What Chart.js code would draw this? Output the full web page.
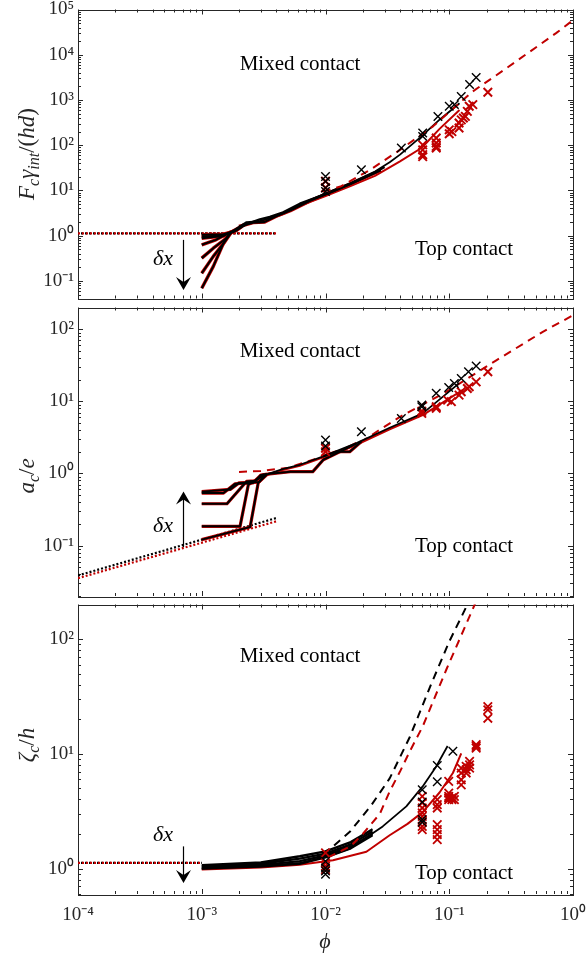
<!DOCTYPE html>
<html><head><meta charset="utf-8">
<script src="https://cdn.jsdelivr.net/npm/chart.js@4.4.1/dist/chart.umd.min.js"></script>
<style>
html,body{margin:0;padding:0;background:#fff;}
#wrap{position:relative;width:587px;height:960px;overflow:hidden;background:#fff;}
canvas{position:absolute;left:0;top:0;}
.lbl{position:absolute;font-family:'Liberation Serif','Times New Roman',serif;font-size:21px;color:#000;white-space:nowrap;transform:translate(-50%,-50%);}
.dx{position:absolute;font-family:'Liberation Serif','Times New Roman',serif;font-style:italic;font-size:22px;color:#000;white-space:nowrap;transform:translate(-50%,-50%);}
.yt{position:absolute;font-family:'Liberation Serif','Times New Roman',serif;font-size:23px;color:#262626;white-space:nowrap;transform:translate(-50%,-50%) rotate(-90deg);}
.yt i{font-style:italic;}
.yt sub{font-size:16px;vertical-align:-5px;line-height:0;}
.xt{position:absolute;font-family:'Liberation Serif','Times New Roman',serif;font-style:italic;font-size:22px;color:#262626;transform:translate(-50%,-50%);}
</style></head>
<body>
<div id="wrap">
<canvas id="cA" width="587" height="960"></canvas>
<canvas id="cB" width="587" height="960"></canvas>
<canvas id="cC" width="587" height="960"></canvas>
<div class="yt" style="left:27px;top:154px"><i>F</i><sub><i>c</i></sub><i>γ</i><sub><i>int</i></sub>/(<i>hd</i>)</div>
<div class="yt" style="left:27px;top:476px"><i>a</i><sub><i>c</i></sub>/<i>e</i></div>
<div class="yt" style="left:27px;top:745px"><i>ζ</i><sub><i>c</i></sub>/<i>h</i></div>
<div class="xt" style="left:325px;top:941px">ϕ</div>
<div class="lbl" style="left:300px;top:63px">Mixed contact</div>
<div class="lbl" style="left:464px;top:248px">Top contact</div>
<div class="lbl" style="left:300px;top:350px">Mixed contact</div>
<div class="lbl" style="left:464px;top:545px">Top contact</div>
<div class="lbl" style="left:300px;top:655px">Mixed contact</div>
<div class="lbl" style="left:464px;top:872px">Top contact</div>
<div class="dx" style="left:163px;top:258px">δx</div>
<div class="dx" style="left:163px;top:525px">δx</div>
<div class="dx" style="left:163px;top:834px">δx</div>
</div>
<script>
// ---------- axes / ticks ----------
const X_TICKS = [1e-4, 1e-3, 1e-2, 1e-1, 1];
const X_TICK_LABELS = ['10⁻⁴', '10⁻³', '10⁻²', '10⁻¹', '10⁰'];
const A_Y_TICKS = [1e-1, 1, 10, 100, 1e3, 1e4, 1e5];
const A_Y_LABELS = ['10⁻¹', '10⁰', '10¹', '10²', '10³', '10⁴', '10⁵'];
const B_Y_TICKS = [1e-1, 1, 10, 100];
const B_Y_LABELS = ['10⁻¹', '10⁰', '10¹', '10²'];
const C_Y_TICKS = [1, 10, 100];
const C_Y_LABELS = ['10⁰', '10¹', '10²'];

// ---------- panel A : F_c gamma_int/(hd) ----------
const A_DOT_X = [1e-4, 4e-3];
const A_DOT_Y = [1.13, 1.13];
const A_F1_X = [1e-3, 1.24e-3, 1.54e-3, 1.75e-3];
const A_F1_Y = [0.069, 0.21, 0.81, 1.24];
const A_F2_X = [1e-3, 1.24e-3, 1.54e-3, 1.75e-3];
const A_F2_Y = [0.148, 0.35, 0.74, 1.24];
const A_F3_X = [1e-3, 1.24e-3, 1.58e-3, 1.75e-3];
const A_F3_Y = [0.32, 0.53, 0.88, 1.24];
const A_F4_X = [1e-3, 1.3e-3, 1.64e-3, 1.85e-3];
const A_F4_Y = [0.63, 0.81, 1.14, 1.3];
const A_F5_X = [1e-3, 1.5e-3, 1.75e-3, 2.0e-3];
const A_F5_Y = [0.88, 0.99, 1.23, 1.5];
const A_F6_X = [1e-3, 1.4e-3, 1.8e-3, 2.1e-3];
const A_F6_Y = [0.96, 1.0, 1.2, 1.6];
const A_F7_X = [1e-3, 1.5e-3, 1.9e-3, 2.2e-3];
const A_F7_Y = [1.05, 1.08, 1.3, 1.75];
const A_T2_X = [1.85e-3, 2.3e-3, 2.95e-3, 3.55e-3, 4.55e-3, 6.2e-3, 0.01, 0.0159, 0.0251, 0.03];
const A_T2_Y = [1.3, 1.8, 2.3, 2.6, 3.3, 5.1, 8.3, 14.0, 25.0, 33];
const A_T3_X = [2.0e-3, 2.6e-3, 3.2e-3, 4.0e-3, 5.2e-3, 7.5e-3, 0.012, 0.02, 0.028];
const A_T3_Y = [1.6, 1.95, 2.0, 2.7, 3.6, 5.9, 10, 18.5, 28];
const A_BLACK_X = [1.75e-3, 2.3e-3, 2.95e-3, 3.55e-3, 4.55e-3, 6.2e-3, 0.01, 0.0159, 0.0251, 0.033, 0.04, 0.0577, 0.0835, 0.121];
const A_BLACK_Y = [1.24, 2.0, 2.1, 2.44, 3.16, 4.9, 8.7, 14.6, 26.3, 42, 62, 145, 367, 850];
const A_RED_X = [1.75e-3, 2.3e-3, 2.95e-3, 3.55e-3, 4.55e-3, 6.2e-3, 0.01, 0.0159, 0.0251, 0.04, 0.06, 0.0835, 0.121];
const A_RED_Y = [1.2, 1.85, 2.0, 2.35, 3.0, 4.6, 7.5, 12.5, 21, 44, 88, 230, 600];
const A_DASH_X = [0.0095, 0.0132, 0.023, 0.04, 0.074, 0.155, 0.27, 0.73, 1.0];
const A_DASH_Y = [9.5, 12.2, 28.7, 79, 262, 1550, 4400, 30000, 58000];
const A_BX = [0.01, 0.01, 0.01, 0.01, 0.0195, 0.041, 0.061, 0.061, 0.081, 0.1, 0.11, 0.125, 0.146, 0.165];
const A_BY = [20.4, 15.9, 11.3, 9.5, 28.7, 87, 186, 157, 434, 725, 790, 1200, 2190, 3150];
const A_RX = [0.01, 0.01, 0.061, 0.061, 0.061, 0.061, 0.0785, 0.0785, 0.0785, 0.0785, 0.1, 0.105, 0.1, 0.12, 0.12, 0.125, 0.13, 0.135, 0.14, 0.145, 0.155, 0.205];
const A_RY = [16, 11.5, 102, 79, 62, 56, 145, 112, 94, 87, 219, 200, 180, 240, 310, 363, 400, 435, 560, 725, 790, 1480];

// ---------- panel B : a_c/e ----------
const B_DOTK_X = [1e-4, 4e-3];
const B_DOTK_Y = [0.0385, 0.241];
const B_DOTR_X = [1e-4, 4e-3];
const B_DOTR_Y = [0.0353, 0.217];
const B_F1_X = [1e-3, 1.5e-3, 1.86e-3, 2.6e-3, 3.0e-3, 3.4e-3];
const B_F1_Y = [0.535, 0.535, 0.72, 0.74, 0.95, 0.98];
const B_F2_X = [1e-3, 1.7e-3, 2.0e-3, 2.9e-3, 3.3e-3];
const B_F2_Y = [0.56, 0.6, 0.74, 0.76, 0.98];
const B_F3_X = [1e-3, 1.6e-3, 2.3e-3, 2.7e-3, 3.2e-3];
const B_F3_Y = [0.38, 0.38, 0.775, 0.79, 0.97];
const B_F4_X = [1e-3, 2.04e-3, 2.38e-3, 3.3e-3];
const B_F4_Y = [0.185, 0.185, 0.70, 0.98];
const B_F5_X = [1e-3, 2.46e-3, 2.86e-3, 3.4e-3];
const B_F5_Y = [0.121, 0.181, 0.745, 0.98];
const B_S1_X = [3.4e-3, 5.2e-3, 7.9e-3, 9.6e-3, 0.0178];
const B_S1_Y = [0.98, 1.06, 1.06, 1.55, 2.6];
const B_S2_X = [0.0096, 0.0123, 0.0157, 0.0195];
const B_S2_Y = [1.73, 2.0, 2.0, 2.77];
const B_BLACK_X = [3.4e-3, 4.5e-3, 6.2e-3, 9.6e-3, 0.0178, 0.033, 0.061, 0.114, 0.12];
const B_BLACK_Y = [0.98, 1.15, 1.32, 1.73, 2.63, 4.3, 6.8, 16.5, 18];
const B_RED_X = [3.4e-3, 4.5e-3, 6.2e-3, 9.6e-3, 0.0178, 0.033, 0.061, 0.129];
const B_RED_Y = [0.96, 1.12, 1.28, 1.68, 2.5, 4.1, 6.45, 14.4];
const B_DASH_X = [0.002, 0.003, 0.005, 0.0098, 0.0178, 0.04, 0.095, 0.24, 0.57, 1.0];
const B_DASH_Y = [1.05, 1.08, 1.2, 1.75, 2.5, 6.1, 13.6, 37, 92, 156];
const B_BX = [0.01, 0.01, 0.0195, 0.041, 0.06, 0.06, 0.0785, 0.099, 0.11, 0.125, 0.143, 0.165];
const B_BY = [2.9, 2.4, 3.8, 5.8, 8.9, 8.4, 12.9, 15.6, 17.7, 20.8, 25.7, 30.8];
const B_RX = [0.01, 0.01, 0.06, 0.06, 0.0785, 0.0785, 0.097, 0.104, 0.12, 0.125, 0.14, 0.145, 0.165, 0.205];
const B_RY = [2.24, 2.0, 7.3, 6.8, 8.4, 8.0, 10.4, 9.9, 12.2, 13.6, 15.1, 15.9, 18.6, 25.7];

// ---------- panel C : zeta_c/h ----------
const C_DOT_X = [1e-4, 1e-3];
const C_DOT_Y = [1.12, 1.12];
const C_F_X = [1e-3, 3e-3, 6.2e-3, 0.01, 0.016, 0.024];
const C_F1_Y = [1.07, 1.13, 1.28, 1.41, 1.7, 2.2];
const C_F2_Y = [1.05, 1.10, 1.22, 1.35, 1.62, 2.1];
const C_F3_Y = [1.02, 1.07, 1.16, 1.30, 1.55, 2.0];
const C_F4_Y = [1.0, 1.04, 1.1, 1.25, 1.5, 1.95];
const C_BLACK_X = [1e-3, 3e-3, 6.2e-3, 0.01, 0.0159, 0.029, 0.045, 0.061, 0.0785, 0.097];
const C_BLACK_Y = [1.0, 1.05, 1.12, 1.26, 1.5, 2.33, 3.48, 5.2, 7.76, 11.7];
const C_RED_X = [1e-3, 3e-3, 6.2e-3, 0.0115, 0.0214, 0.033, 0.046, 0.061, 0.0835, 0.107, 0.125];
const C_RED_Y = [0.98, 1.02, 1.08, 1.18, 1.4, 1.95, 2.45, 3.1, 4.6, 6.8, 10.1];
const C_DASHK_X = [0.0095, 0.0115, 0.0158, 0.0234, 0.033, 0.048, 0.0697, 0.1, 0.145];
const C_DASHK_Y = [1.35, 1.56, 2.1, 3.55, 6.1, 14, 38, 95, 215];
const C_DASHR_X = [0.0105, 0.0159, 0.02, 0.0275, 0.033, 0.04, 0.048, 0.061, 0.0946, 0.16, 0.17];
const C_DASHR_Y = [1.25, 1.56, 2.0, 3.0, 4.7, 7.0, 10.5, 17.3, 54, 198, 230];
const C_BX = [0.01, 0.01, 0.01, 0.01, 0.0605, 0.0605, 0.0605, 0.0605, 0.08, 0.08, 0.107];
const C_BY = [1.16, 1.01, 0.95, 0.89, 4.87, 3.8, 2.67, 2.53, 7.9, 5.7, 10.5];
const C_RX = [0.01, 0.01, 0.01, 0.01,
  0.0605, 0.0605, 0.0605, 0.0605, 0.0605, 0.0605, 0.0605, 0.0605,
  0.08, 0.08, 0.08, 0.08, 0.08, 0.08, 0.08,
  0.099, 0.099, 0.099, 0.099, 0.099, 0.105, 0.105, 0.11, 0.11,
  0.125, 0.125, 0.125, 0.125, 0.137, 0.137, 0.137, 0.146, 0.146, 0.146,
  0.165, 0.165, 0.165, 0.205, 0.205, 0.205];
const C_RY = [1.37, 1.12, 1.05, 0.98,
  4.25, 3.73, 3.37, 3.05, 2.85, 2.58, 2.33, 2.18,
  3.98, 3.6, 3.37, 2.41, 2.18, 1.98, 1.79,
  5.74, 4.55, 4.25, 4.12, 3.98, 4.12, 3.98, 4.25, 3.98,
  7.5, 6.8, 5.94, 5.37, 7.76, 7.26, 6.8, 8.58, 8.0, 7.5,
  12, 11.6, 11.2, 25.8, 24.1, 20.4];

// ---------- helpers ----------
const RED = '#c00000', BLACK = '#000000', AXC = '#262626';
const FONT = "'Liberation Serif', 'Times New Roman', serif";
function pts(xs, ys) { return xs.map((x, i) => ({ x: x, y: ys[i] })); }
function line(xs, ys, color, width, dash, offset) {
  return { data: pts(xs, ys), borderColor: color, backgroundColor: color, borderWidth: width,
    borderDash: dash || [], borderDashOffset: offset || 0, pointRadius: 0, showLine: true,
    fill: false, tension: 0, borderCapStyle: 'butt', borderJoinStyle: 'round' };
}
function marks(xs, ys, color, w) {
  return { data: pts(xs, ys), borderColor: color, backgroundColor: color, pointStyle: 'crossRot',
    pointRadius: 6, borderWidth: w || 1.4, showLine: false };
}

const framePlugin = {
  id: 'frame',
  beforeDatasetsDraw(chart) {
    const { ctx, chartArea: a, scales } = chart;
    ctx.save();
    ctx.strokeStyle = AXC; ctx.lineWidth = 1;
    const tick = (scale, horiz) => {
      const lo = Math.floor(Math.log10(scale.min)), hi = Math.ceil(Math.log10(scale.max));
      for (let d = lo; d <= hi; d++) for (let m = 1; m <= 9; m++) {
        const v = m * Math.pow(10, d);
        if (v < scale.min * 0.9999 || v > scale.max * 1.0001) continue;
        const p = Math.round(scale.getPixelForValue(v)) + 0.5;
        const L = m === 1 ? 5 : 3;
        ctx.beginPath();
        if (horiz) {
          ctx.moveTo(p, a.bottom); ctx.lineTo(p, a.bottom - L);
          ctx.moveTo(p, a.top); ctx.lineTo(p, a.top + L);
        } else {
          ctx.moveTo(a.left, p); ctx.lineTo(a.left + L, p);
          ctx.moveTo(a.right, p); ctx.lineTo(a.right - L, p);
        }
        ctx.stroke();
      }
    };
    tick(scales.x, true); tick(scales.y, false);
    ctx.strokeRect(Math.round(a.left) + 0.5, Math.round(a.top) + 0.5,
      Math.round(a.right - a.left), Math.round(a.bottom - a.top));
    ctx.restore();
  },
  afterDatasetsDraw(chart, args, opts) {
    const { ctx, scales } = chart;
    (opts.arrows || []).forEach(ar => {
      const px = Math.round(scales.x.getPixelForValue(ar.x)) + 0.5;
      const p0 = scales.y.getPixelForValue(ar.y0), p1 = scales.y.getPixelForValue(ar.y1);
      const dir = Math.sign(p1 - p0);
      ctx.save();
      ctx.strokeStyle = '#000'; ctx.fillStyle = '#000'; ctx.lineWidth = 1.2;
      ctx.beginPath(); ctx.moveTo(px, p0); ctx.lineTo(px, p1 - dir * 6); ctx.stroke();
      ctx.beginPath();
      ctx.moveTo(px, p1);
      ctx.lineTo(px - 7.5, p1 - dir * 13);
      ctx.lineTo(px, p1 - dir * 8);
      ctx.lineTo(px + 7.5, p1 - dir * 13);
      ctx.closePath(); ctx.fill();
      ctx.restore();
    });
  }
};

function makeChart(id, datasets, yMin, yMax, yTicks, yLabels, top, bottom, showX, arrows) {
  new Chart(document.getElementById(id), {
    type: 'scatter',
    data: { datasets: datasets.slice().reverse() },
    options: {
      responsive: false, animation: false,
      layout: { padding: { top: top, left: 0, right: 14, bottom: showX ? 0 : 960 - bottom } },
      plugins: { legend: { display: false }, tooltip: { enabled: false }, frame: { arrows: arrows } },
      elements: { line: { tension: 0 } },
      scales: {
        x: {
          type: 'logarithmic', min: X_TICKS[0], max: X_TICKS[X_TICKS.length - 1],
          afterBuildTicks: s => { s.ticks = X_TICKS.map(v => ({ value: v })); },
          afterFit: s => { s.height = showX ? 960 - bottom : 0; s.paddingLeft = 0; s.paddingRight = 0; },
          grid: { display: false, drawTicks: false }, border: { display: false },
          ticks: { display: showX, autoSkip: false, maxRotation: 0, padding: 10, color: AXC,
            font: { family: FONT, size: 19 }, callback: (v, i) => X_TICK_LABELS[i] }
        },
        y: {
          type: 'logarithmic', min: yMin, max: yMax,
          afterBuildTicks: s => { s.ticks = yTicks.map(v => ({ value: v })); },
          afterFit: s => { s.width = 78; s.paddingTop = 0; s.paddingBottom = 0; },
          grid: { display: false, drawTicks: false }, border: { display: false },
          ticks: { autoSkip: false, padding: 4, color: AXC,
            font: { family: FONT, size: 19 }, callback: (v, i) => yLabels[i] }
        }
      }
    },
    plugins: [framePlugin]
  });
}

// ---------- panel A datasets (bottom to top) ----------
const famA = [[A_F1_X, A_F1_Y], [A_F2_X, A_F2_Y], [A_F3_X, A_F3_Y], [A_F4_X, A_F4_Y], [A_F5_X, A_F5_Y], [A_F6_X, A_F6_Y], [A_F7_X, A_F7_Y]];
const dsA = [];
dsA.push(line(A_DOT_X, A_DOT_Y, BLACK, 2.2, [2, 2], 1));
dsA.push(line(A_DOT_X, A_DOT_Y, RED, 2.2, [2, 2]));
famA.forEach(f => dsA.push(line(f[0], f[1], RED, 3.4)));
dsA.push(line(A_RED_X, A_RED_Y, RED, 2));
dsA.push(line(A_T3_X, A_T3_Y, RED, 3.5));
famA.forEach(f => dsA.push(line(f[0], f[1], BLACK, 2)));
dsA.push(line(A_T2_X, A_T2_Y, BLACK, 2.4));
dsA.push(line(A_T3_X, A_T3_Y, BLACK, 2.2));
dsA.push(line(A_BLACK_X, A_BLACK_Y, BLACK, 1.8));
dsA.push(line(A_DASH_X, A_DASH_Y, RED, 2, [8, 6]));
dsA.push(marks(A_RX, A_RY, RED, 2));
dsA.push(marks(A_BX, A_BY, BLACK, 1.4));
makeChart('cA', dsA, 0.041, 1e5, A_Y_TICKS, A_Y_LABELS, 9.5, 298.5, false,
  [{ x: 7.06e-4, y0: 0.81, y1: 0.063 }]);

// ---------- panel B ----------
const famB = [[B_F1_X, B_F1_Y], [B_F2_X, B_F2_Y], [B_F3_X, B_F3_Y], [B_F4_X, B_F4_Y], [B_F5_X, B_F5_Y], [B_S1_X, B_S1_Y], [B_S2_X, B_S2_Y]];
const dsB = [];
dsB.push(line(B_DOTK_X, B_DOTK_Y, BLACK, 2.2, [2, 2]));
dsB.push(line(B_DOTR_X, B_DOTR_Y, RED, 2.2, [2, 2]));
famB.forEach(f => dsB.push(line(f[0], f[1], RED, 3.2)));
dsB.push(line(B_RED_X, B_RED_Y, RED, 2));
dsB.push(line(B_DASH_X, B_DASH_Y, RED, 2, [8, 6]));
famB.forEach(f => dsB.push(line(f[0], f[1], BLACK, 2)));
dsB.push(line(B_BLACK_X, B_BLACK_Y, BLACK, 1.8));
dsB.push(marks(B_RX, B_RY, RED, 2));
dsB.push(marks(B_BX, B_BY, BLACK, 1.4));
makeChart('cB', dsB, 0.02, 200, B_Y_TICKS, B_Y_LABELS, 307.5, 596, false,
  [{ x: 7.06e-4, y0: 0.095, y1: 0.56 }]);

// ---------- panel C ----------
const famC = [C_F1_Y, C_F2_Y, C_F3_Y, C_F4_Y];
const dsC = [];
dsC.push(line(C_DOT_X, C_DOT_Y, BLACK, 2.2, [2, 2], 1));
dsC.push(line(C_DOT_X, C_DOT_Y, RED, 2.2, [2, 2]));
dsC.push(line(C_RED_X, C_RED_Y, RED, 2));
famC.forEach(y => dsC.push(line(C_F_X, y, BLACK, 2.4)));
dsC.push(line(C_BLACK_X, C_BLACK_Y, BLACK, 1.8));
dsC.push(line(C_DASHR_X, C_DASHR_Y, RED, 2, [8, 6]));
dsC.push(line(C_DASHK_X, C_DASHK_Y, BLACK, 2, [8, 6]));
dsC.push(marks(C_RX, C_RY, RED, 1.8));
dsC.push(marks(C_BX, C_BY, BLACK, 1.4));
makeChart('cC', dsC, 0.6, 200, C_Y_TICKS, C_Y_LABELS, 604.5, 894, true,
  [{ x: 7.06e-4, y0: 1.56, y1: 0.75 }]);
</script>
</body></html>
